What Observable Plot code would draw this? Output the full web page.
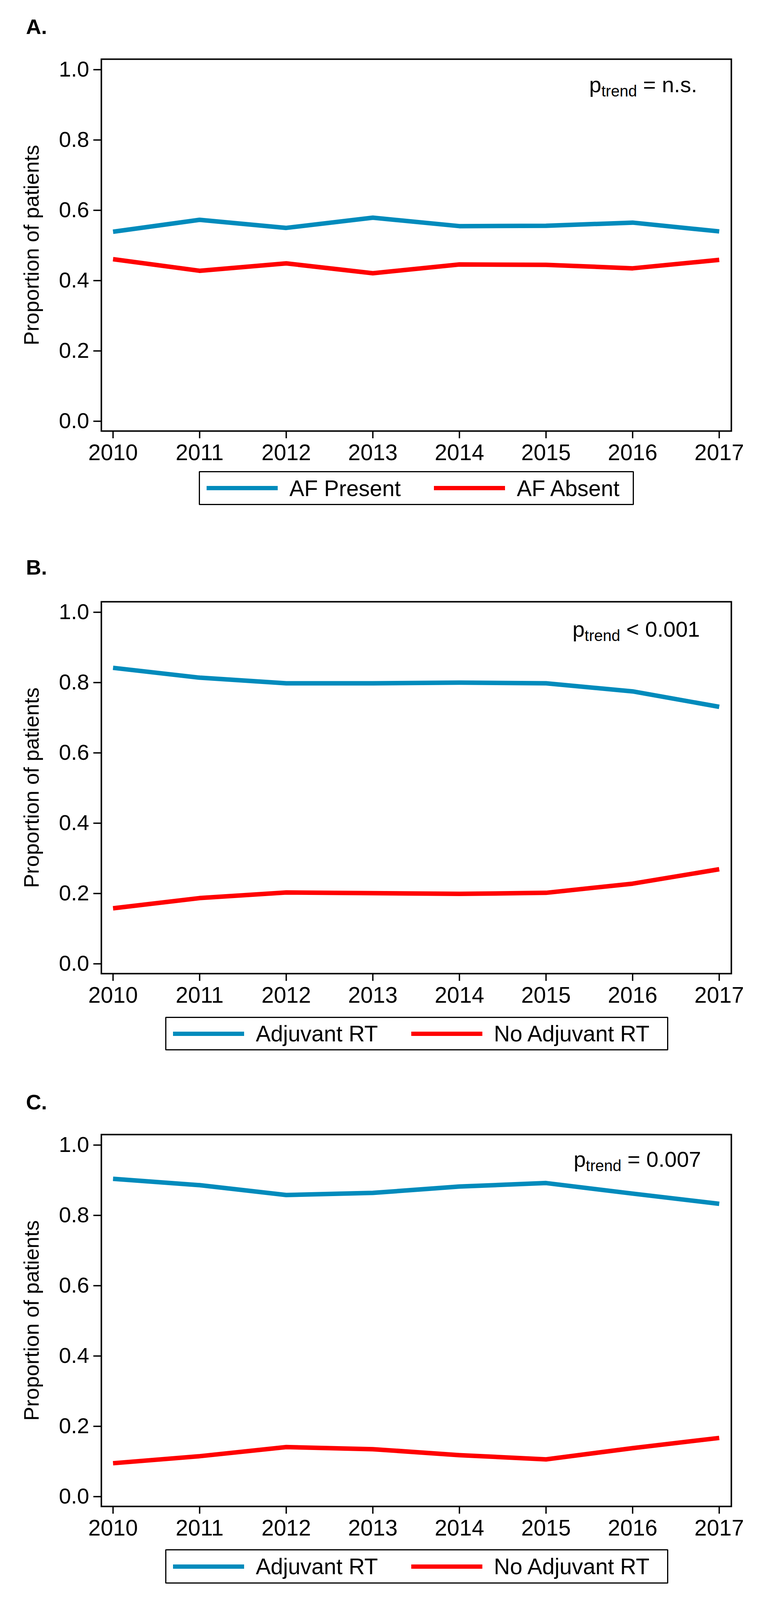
<!DOCTYPE html>
<html>
<head>
<meta charset="utf-8">
<script src="https://cdn.jsdelivr.net/npm/d3@7"></script>
<script src="https://cdn.jsdelivr.net/npm/@observablehq/plot@0.6"></script>
<style>
  html, body { margin: 0; padding: 0; background: #fff; }
  #page { position: relative; width: 1951px; height: 4096px; background: #fff; font-family: "Liberation Sans", Arial, Helvetica, sans-serif; overflow: hidden; }
  .panel { position: absolute; left: 0; }
  .legend { position: absolute; box-sizing: border-box; border: 3.5px solid #000; border-radius: 2px; display: flex; align-items: center; padding-left: 17px; font-size: 57px; color: #000; white-space: nowrap; }
  .sw { height: 11px; width: 182px; flex: none; }
  .lab { margin-left: 30px; }
  .gap { width: 85px; flex: none; }
</style>
</head>
<body>
<div id="page"></div>
<script>
// ---- data ----
const years = [2010, 2011, 2012, 2013, 2014, 2015, 2016, 2017];
const yTicks = [0, 0.2, 0.4, 0.6, 0.8, 1.0];

// Panel A
const afPresent = [0.539, 0.573, 0.550, 0.579, 0.555, 0.556, 0.565, 0.540];
const afAbsent  = [0.461, 0.428, 0.449, 0.421, 0.446, 0.445, 0.435, 0.459];
// Panel B
const adjuvantB   = [0.842, 0.814, 0.798, 0.798, 0.800, 0.798, 0.775, 0.731];
const noAdjuvantB = [0.158, 0.187, 0.203, 0.201, 0.199, 0.202, 0.228, 0.269];
// Panel C
const adjuvantC   = [0.904, 0.886, 0.858, 0.864, 0.882, 0.892, 0.862, 0.833];
const noAdjuvantC = [0.095, 0.115, 0.141, 0.135, 0.118, 0.106, 0.138, 0.167];

const panelLabels = ["A.", "B.", "C."];
const seriesNames = [["AF Present", "AF Absent"], ["Adjuvant RT", "No Adjuvant RT"], ["Adjuvant RT", "No Adjuvant RT"]];
const pTrendText = ["= n.s.", "< 0.001", "= 0.007"];

const BLUE = "#008bbc", RED = "#ff0000";
const FONT = '"Liberation Sans", Arial, Helvetica, sans-serif';

// The photograph only keeps the top 4096 px, so the vertical layout
// of the 4567 px tall reference is compressed to fit it.
const SY = 4096 / 4567;

// ---- layout (reference pixels; vertical values are scaled by SY) ----
const MT = 168, FH = 1061, MB = 110;
const layouts = [
  {frameTop: 168,  labelDy: -72, pRight: 87, pBase: 95,  legend: {left: 509, top: 1345, width: 1114, height: 97}},
  {frameTop: 1717, labelDy: -78, pRight: 80, pBase: 100, legend: {left: 423, top: 2902, width: 1288, height: 96}},
  {frameTop: 3238, labelDy: -72, pRight: 77, pBase: 93,  legend: {left: 423, top: 4422, width: 1288, height: 98}}
];
const series = [[afPresent, afAbsent], [adjuvantB, noAdjuvantB], [adjuvantC, noAdjuvantC]];

function pTrend(rest, rightInset, baseBelowTop) {
  return (index, scales, values, dims) => {
    const ns = "http://www.w3.org/2000/svg";
    const t = document.createElementNS(ns, "text");
    t.setAttribute("x", dims.width - dims.marginRight - rightInset);
    t.setAttribute("y", dims.marginTop + baseBelowTop);
    t.setAttribute("text-anchor", "end");
    t.setAttribute("font-size", 56);
    t.setAttribute("font-family", FONT);
    t.setAttribute("fill", "#000");
    t.setAttribute("style", "white-space: pre");
    const a = document.createElementNS(ns, "tspan"); a.textContent = "p";
    const b = document.createElementNS(ns, "tspan"); b.textContent = "trend";
    b.setAttribute("font-size", 40); b.setAttribute("dy", 11);
    const c = document.createElementNS(ns, "tspan"); c.textContent = " " + rest;
    c.setAttribute("dy", -11);
    t.append(a, b, c);
    return t;
  };
}

const page = document.getElementById("page");
const mt = Math.round(MT * SY), fh = Math.round(FH * SY), mb = Math.round(MB * SY);

layouts.forEach((L, k) => {
  const [n1, n2] = seriesNames[k];
  const [s1, s2] = series[k];
  const data = years.flatMap((yr, i) => [
    {year: yr, value: s1[i], series: n1},
    {year: yr, value: s2[i], series: n2}
  ]);
  const chart = Plot.plot({
    width: 1951,
    height: mt + fh + mb,
    marginLeft: 259,
    marginRight: 79,
    marginTop: mt,
    marginBottom: mb,
    style: {fontFamily: FONT, fontSize: "56px", color: "#000", background: "transparent", overflow: "visible"},
    x: {domain: [2009.865, 2017.14]},
    y: {domain: [-0.0279, 1.0299]},
    color: {domain: [n1, n2], range: [BLUE, RED]},
    marks: [
      Plot.line(data, {x: "year", y: "value", z: "series", stroke: "series", strokeWidth: 11.5, strokeLinecap: "butt", strokeLinejoin: "round"}),
      Plot.frame({stroke: "#000", strokeWidth: 3.8}),
      Plot.axisX({ticks: years, tickFormat: d => String(d), tickSize: 19, tickPadding: 15, strokeWidth: 3.5, fontSize: 57, label: null}),
      Plot.axisY({ticks: yTicks, tickFormat: d3.format(".1f"), tickSize: 20, tickPadding: 11, strokeWidth: 3.5, fontSize: 56, label: null}),
      Plot.text(["Proportion of patients"], {text: d => d, frameAnchor: "left", rotate: -90, dx: -161, lineAnchor: "bottom", textAnchor: "middle", fontSize: 54}),
      Plot.text([panelLabels[k]], {text: d => d, frameAnchor: "top-left", dx: -193, dy: L.labelDy * SY, lineAnchor: "bottom", textAnchor: "start", fontSize: 54, fontWeight: "bold"}),
      pTrend(pTrendText[k], L.pRight, L.pBase * SY)
    ]
  });
  chart.classList.add("panel");
  chart.style.top = Math.round((L.frameTop - MT) * SY) + "px";
  page.appendChild(chart);

  const lg = document.createElement("div");
  lg.className = "legend";
  Object.assign(lg.style, {
    left: L.legend.left + "px",
    top: Math.round(L.legend.top * SY) + "px",
    width: L.legend.width + "px",
    height: Math.round(L.legend.height * SY) + "px"
  });
  lg.innerHTML = `<div class="sw" style="background:${BLUE}"></div><span class="lab">${n1}</span><div class="gap"></div><div class="sw" style="background:${RED}"></div><span class="lab">${n2}</span>`;
  page.appendChild(lg);
});
</script>
</body>
</html>
